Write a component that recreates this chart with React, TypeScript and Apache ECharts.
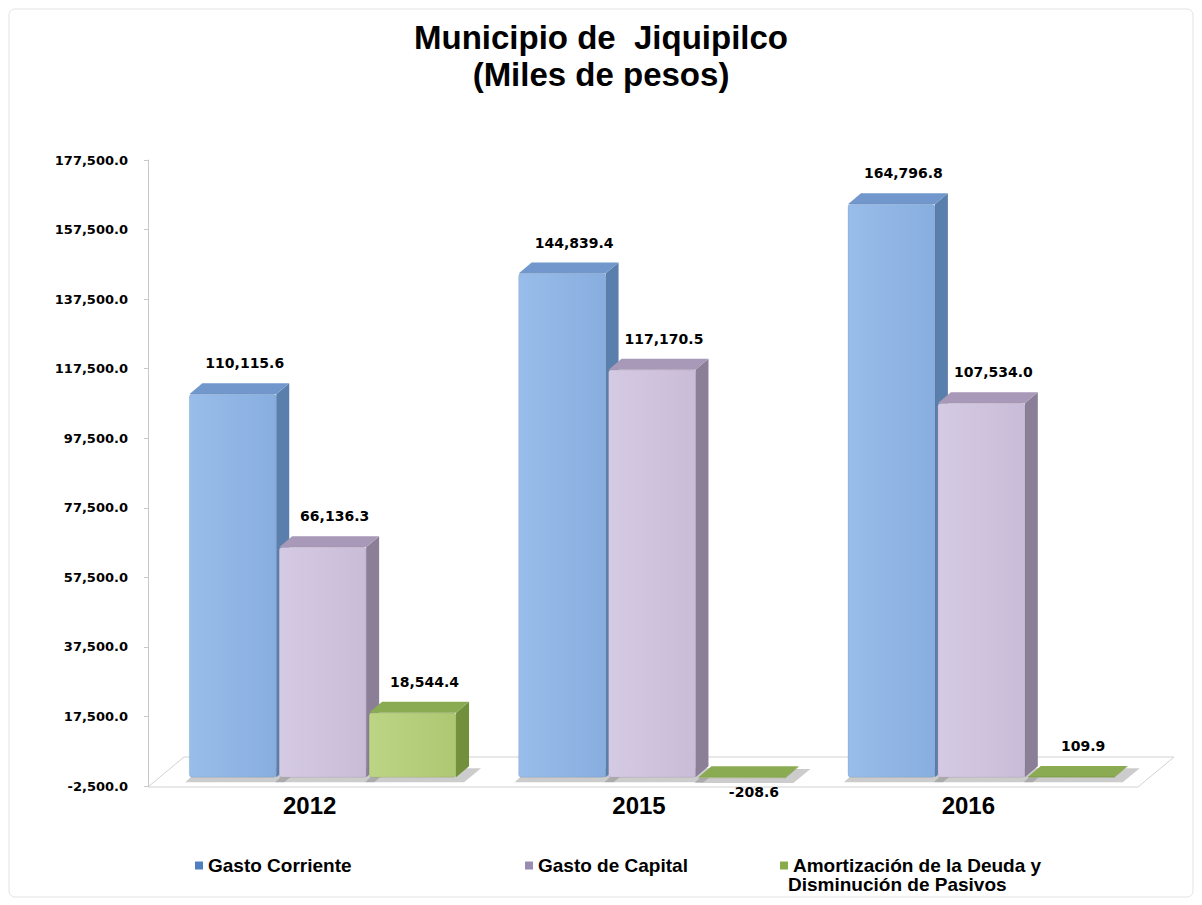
import React, { useEffect, useRef } from "react";
import * as echarts from "echarts";

const categories = ["2012", "2015", "2016"];
const seriesNames = [
  "Gasto Corriente",
  "Gasto de Capital",
  "Amortización de la Deuda y Disminución de Pasivos",
];
const gastoCorriente = [110115.6, 144839.4, 164796.8];
const gastoCapital = [66136.3, 117170.5, 107534.0];
const amortizacion = [18544.4, -208.6, 109.9];
const tickValues = [-2500, 17500, 37500, 57500, 77500, 97500, 117500, 137500, 157500, 177500];

const palettes = [
  { front: ["#98bdea", "#88aee0"], side: "#5b7fac", top: "#7197cc", legend: "#4f7fc0" },
  { front: ["#d5cae3", "#c9bcd8"], side: "#8b7f98", top: "#a899b8", legend: "#9a8bb0" },
  { front: ["#bcd585", "#aec772"], side: "#72903b", top: "#8bab52", legend: "#8aab4c" },
];

const fmt = (v: number) =>
  v.toLocaleString("en-US", { minimumFractionDigits: 1, maximumFractionDigits: 1 });

export default function App() {
  const ref = useRef<HTMLDivElement>(null);
  useEffect(() => {
    document.body.style.margin = "0";
    const chart = echarts.init(ref.current!, null, { renderer: "svg" });
    const all = [gastoCorriente, gastoCapital, amortizacion];
    const DX = 13;
    const DY = 11;
    const makeRender = (si: number) => (params: any, api: any) => {
      const cat = api.value(0);
      const val = api.value(1);
      const c = api.coord([cat, val]);
      const b = api.coord([cat, 0]);
      const band = api.size([1, 0])[0];
      const w = band * 0.264;
      const step = band * 0.273;
      const cx = c[0] + (si - 1) * step;
      const x0 = cx - w / 2;
      const x1 = cx + w / 2;
      const yt = Math.min(c[1], b[1]);
      const yb = Math.max(c[1], b[1]);
      const p = palettes[si];
      const children: any[] = [
        {
          type: "polygon",
          shape: {
            points: [
              [x0 - 4, yb + 5],
              [x1 + 8, yb + 5],
              [x1 + DX + 12, yb - DY + 2],
              [x0 + DX - 2, yb - DY + 2],
            ],
          },
          style: { fill: "rgba(110,110,110,0.35)" },
          z2: 0,
        },
        {
          type: "polygon",
          shape: { points: [[x1, yt], [x1 + DX, yt - DY], [x1 + DX, yb - DY], [x1, yb]] },
          style: { fill: p.side },
          z2: 1,
        },
        {
          type: "polygon",
          shape: { points: [[x0, yt], [x0 + DX, yt - DY], [x1 + DX, yt - DY], [x1, yt]] },
          style: { fill: p.top },
          z2: 1,
        },
        {
          type: "rect",
          shape: { x: x0, y: yt, width: w, height: Math.max(yb - yt, 0.5), r: 3 },
          style: {
            fill: new echarts.graphic.LinearGradient(0, 0, 1, 0, [
              { offset: 0, color: p.front[0] },
              { offset: 1, color: p.front[1] },
            ]),
            stroke: "rgba(0,0,0,0.08)",
            lineWidth: 1,
          },
          z2: 2,
        },
        {
          type: "text",
          style: {
            text: fmt(val),
            x: cx + 12,
            y: val >= 0 ? yt - 31 : yb + 14,
            align: "center",
            verticalAlign: "middle",
            fill: "#000",
            font: "bold 14px 'DejaVu Sans'",
          },
          z2: 3,
        },
      ];
      return { type: "group", children };
    };

    const option: any = {
      animation: false,
      backgroundColor: "#ffffff",
      title: {
        text: "Municipio de  Jiquipilco\n(Miles de pesos)",
        left: "center",
        top: 14,
        textStyle: {
          fontFamily: "Liberation Sans",
          fontWeight: "bold",
          fontSize: 33,
          lineHeight: 37,
          color: "#000",
        },
      },
      grid: { left: 158, right: 56, top: 160, bottom: 119 },
      xAxis: {
        type: "category",
        data: categories,
        axisLine: { show: false },
        axisTick: { show: false },
        axisLabel: {
          margin: 7,
          padding: [0, 26, 0, 0],
          fontFamily: "Liberation Sans",
          fontWeight: "bold",
          fontSize: 24,
          color: "#000",
        },
      },
      yAxis: {
        type: "value",
        min: -2500,
        max: 177500,
        offset: 10,
        splitLine: { show: false },
        axisLine: { show: true, lineStyle: { color: "#c8c8c8" } },
        axisTick: { show: true, customValues: tickValues, length: 4, lineStyle: { color: "#c8c8c8" } },
        axisLabel: {
          customValues: tickValues,
          formatter: (v: number) => fmt(v),
          margin: 20,
          fontFamily: "DejaVu Sans",
          fontWeight: "bold",
          fontSize: 13,
          color: "#000",
        },
      },
      legend: [0, 1, 2].map((i) => ({
        data: [seriesNames[i]],
        left: [190, 520, 775][i],
        top: 851,
        icon: "rect",
        itemWidth: 8,
        itemHeight: 8,
        itemGap: 4,
        formatter: (n: string) => (i === 2 ? "Amortización de la Deuda y" : n),
        textStyle: {
          fontFamily: "Liberation Sans",
          fontWeight: "bold",
          fontSize: 19,
          color: "#000",
        },
      })),
      graphic: [
        {
          type: "rect",
          shape: { x: 9, y: 9, width: 1184, height: 888, r: 6 },
          style: { fill: "none", stroke: "#e3e3e3", lineWidth: 1 },
          z: -10,
        },
        {
          type: "polygon",
          shape: { points: [[148, 787], [1138, 787], [1174, 757], [184, 757]] },
          style: { fill: "#ffffff", stroke: "#d2d2d2", lineWidth: 1 },
          z: -5,
        },
        {
          type: "text",
          style: {
            text: "Disminución de Pasivos",
            x: 788,
            y: 875,
            fill: "#000",
            font: "bold 19px 'Liberation Sans'",
          },
        },
      ],
      series: [0, 1, 2].map((si) => ({
        type: "custom",
        name: seriesNames[si],
        itemStyle: { color: palettes[si].legend },
        encode: { x: 0, y: 1 },
        data: all[si].map((v, i) => [i, v]),
        renderItem: makeRender(si),
        z: 2,
      })),
    };
    chart.setOption(option);
    return () => chart.dispose();
  }, []);
  return <div ref={ref} style={{ width: 1202, height: 905 }} />;
}
